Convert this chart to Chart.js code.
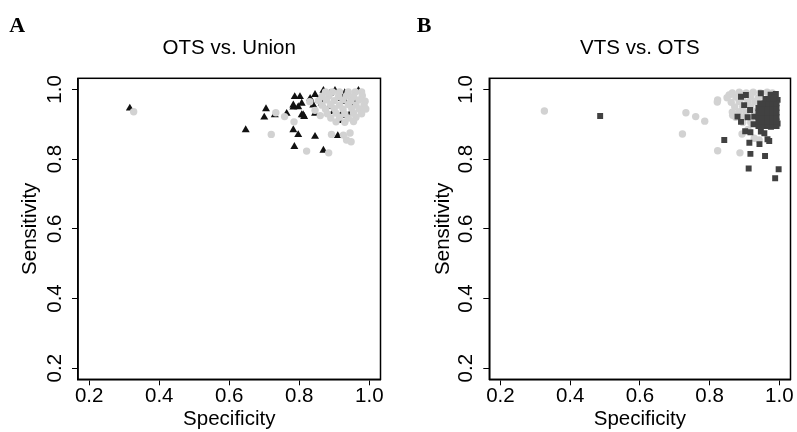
<!DOCTYPE html>
<html>
<head>
<meta charset="utf-8">
<script src="https://cdn.jsdelivr.net/npm/chart.js@4.4.1/dist/chart.umd.min.js"></script>
<style>
  html, body { margin: 0; padding: 0; background: #fff; }
  #wrap { position: relative; width: 797px; height: 432px; }
  canvas { position: absolute; top: 0; }
  #chartA { left: 0; }
  #chartB { left: 400px; }
</style>
</head>
<body>
<div id="wrap">
  <canvas id="chartA" width="400" height="432"></canvas>
  <canvas id="chartB" width="397" height="432"></canvas>
</div>
<script>
// Axis ticks shared by both panels
const tickValues = [0.2, 0.4, 0.6, 0.8, 1.0];
const axisMin = 0.168;
const axisMax = 1.032;

// Panel A: OTS vs. Union — [specificity, sensitivity]
const unionTriangles = [
  [0.316, 0.946], [0.647, 0.884], [0.705, 0.944], [0.700, 0.920], [0.730, 0.927],
  [0.764, 0.931], [0.783, 0.884], [0.797, 0.870], [0.786, 0.836], [0.845, 0.865],
  [0.869, 0.825], [0.910, 0.867], [0.783, 0.949], [0.807, 0.927], [0.814, 0.922],
  [0.845, 0.931], [0.787, 0.979], [0.802, 0.979], [0.783, 0.955], [0.807, 0.960],
  [0.797, 0.950], [0.811, 0.927], [0.831, 0.974], [0.840, 0.955], [0.869, 0.997],
  [0.888, 0.989], [0.902, 0.997], [0.864, 0.960], [0.897, 0.936], [0.921, 0.931],
  [0.945, 0.931], [0.969, 0.997], [0.931, 0.965], [0.921, 0.974], [0.888, 0.952],
  [0.845, 0.985], [0.855, 0.970], [0.930, 0.990], [0.950, 0.955], [0.960, 0.960],
  [0.915, 0.910], [0.935, 0.925]
];
const otsCirclesA = [
  [0.327, 0.936], [0.733, 0.933], [0.758, 0.922], [0.785, 0.907], [0.720, 0.871],
  [0.821, 0.823], [0.884, 0.818], [0.892, 0.871], [0.926, 0.869], [0.935, 0.855],
  [0.945, 0.875], [0.948, 0.850], [0.830, 0.965], [0.845, 0.940], [0.860, 0.925],
  [0.875, 0.993], [0.895, 0.993], [0.915, 0.993], [0.940, 0.993], [0.960, 0.993], [0.978, 0.993],
  [0.865, 0.980], [0.885, 0.982], [0.912, 0.980], [0.935, 0.982], [0.955, 0.980], [0.980, 0.982],
  [0.855, 0.968], [0.878, 0.970], [0.900, 0.968], [0.925, 0.970], [0.948, 0.968], [0.970, 0.970], [0.988, 0.966],
  [0.865, 0.955], [0.890, 0.957], [0.915, 0.955], [0.940, 0.957], [0.962, 0.955], [0.985, 0.955],
  [0.875, 0.943], [0.900, 0.945], [0.925, 0.943], [0.950, 0.945], [0.972, 0.943], [0.990, 0.944],
  [0.880, 0.930], [0.905, 0.932], [0.930, 0.930], [0.955, 0.932], [0.978, 0.930],
  [0.890, 0.918], [0.915, 0.920], [0.940, 0.918], [0.962, 0.920],
  [0.905, 0.907], [0.930, 0.906], [0.955, 0.908]
];

// Panel B: VTS vs. OTS — [specificity, sensitivity]
const otsCirclesB = [
  [0.326, 0.938], [0.732, 0.933], [0.760, 0.922], [0.786, 0.909], [0.722, 0.872],
  [0.823, 0.824], [0.887, 0.818], [0.823, 0.970], [0.822, 0.964], [0.893, 0.872],
  [0.928, 0.860], [0.942, 0.855], [0.910, 0.885], [0.866, 0.926], [0.856, 0.984],
  [0.865, 0.990], [0.885, 0.992], [0.905, 0.990], [0.925, 0.992], [0.945, 0.990], [0.965, 0.992], [0.980, 0.990],
  [0.850, 0.976], [0.875, 0.978], [0.895, 0.976], [0.918, 0.978], [0.940, 0.976],
  [0.862, 0.963], [0.885, 0.965], [0.910, 0.963], [0.930, 0.965],
  [0.872, 0.950], [0.895, 0.950], [0.918, 0.950],
  [0.865, 0.935], [0.885, 0.936], [0.905, 0.935], [0.928, 0.936],
  [0.875, 0.920], [0.898, 0.921], [0.922, 0.920],
  [0.895, 0.905], [0.918, 0.905], [0.938, 0.905]
];
const vtsSquares = [
  [0.486, 0.924], [0.842, 0.855], [0.890, 0.979], [0.904, 0.984], [0.899, 0.955],
  [0.916, 0.941], [0.880, 0.922], [0.890, 0.907], [0.909, 0.920], [0.902, 0.880],
  [0.917, 0.877], [0.914, 0.847], [0.917, 0.815], [0.912, 0.773], [0.943, 0.843],
  [0.947, 0.879], [0.957, 0.874], [0.966, 0.857], [0.971, 0.852], [0.959, 0.809],
  [0.998, 0.771], [0.988, 0.745], [0.947, 0.989], [0.928, 0.922], [0.926, 0.900],
  [0.976, 0.893], [0.995, 0.902], [0.995, 0.970], [0.975, 0.985], [0.990, 0.987], [0.985, 0.978],
  [0.940, 0.895], [0.953, 0.895], [0.966, 0.895], [0.979, 0.895], [0.992, 0.895],
  [0.940, 0.908], [0.953, 0.908], [0.966, 0.908], [0.979, 0.908], [0.992, 0.908],
  [0.940, 0.921], [0.953, 0.921], [0.966, 0.921], [0.979, 0.921], [0.992, 0.921],
  [0.940, 0.934], [0.953, 0.934], [0.966, 0.934], [0.979, 0.934], [0.992, 0.934],
  [0.940, 0.947], [0.953, 0.947], [0.966, 0.947], [0.979, 0.947], [0.992, 0.947],
  [0.945, 0.960], [0.957, 0.960], [0.968, 0.960], [0.980, 0.960], [0.992, 0.960],
  [0.960, 0.973], [0.972, 0.973], [0.984, 0.973]
];

const FONT = "'Liberation Sans', Arial, Helvetica, sans-serif";
const FS = 20.5;
const toXY = arr => arr.map(p => ({ x: p[0], y: p[1] }));

// Draws the panel letter, the title and the full box around the plot
const panelDecor = {
  id: 'panelDecor',
  afterDatasetsDraw(chart, args, opts) {
    const { ctx, chartArea } = chart;
    ctx.save();
    ctx.strokeStyle = '#000';
    ctx.lineWidth = 1.5;
    ctx.strokeRect(chartArea.left, chartArea.top, chartArea.right - chartArea.left, chartArea.bottom - chartArea.top);
    ctx.fillStyle = '#000';
    ctx.textBaseline = 'alphabetic';
    ctx.font = "bold 22px 'Liberation Serif', 'Times New Roman', serif";
    ctx.textAlign = 'left';
    ctx.fillText(opts.letter, opts.letterX, 31.5);
    ctx.font = FS + 'px ' + FONT;
    ctx.textAlign = 'center';
    ctx.fillText(opts.title, (chartArea.left + chartArea.right) / 2, 53.5);
    ctx.restore();
  }
};

function makeScales(yTitlePad) {
  const common = {
    type: 'linear',
    min: axisMin,
    max: axisMax,
    afterBuildTicks: scale => { scale.ticks = tickValues.map(v => ({ value: v })); },
    grid: { drawOnChartArea: false, drawTicks: true, tickLength: 6, color: '#000', lineWidth: 1 },
    border: { display: true, color: '#000', width: 1.5 }
  };
  return {
    x: Object.assign({}, common, {
      position: 'bottom',
      ticks: { autoSkip: false, maxRotation: 0, padding: -1.5, color: '#000', font: { family: FONT, size: FS }, callback: v => v.toFixed(1) },
      title: { display: true, text: 'Specificity', color: '#000', font: { family: FONT, size: FS }, padding: { top: 0, bottom: 0.4 } },
      afterFit: scale => { scale.height = 52.7; }
    }),
    y: Object.assign({}, common, {
      position: 'left',
      ticks: { autoSkip: false, minRotation: 90, maxRotation: 90, crossAlign: 'center', padding: 2.7, color: '#000', font: { family: FONT, size: FS }, callback: v => v.toFixed(1) },
      title: { display: true, text: 'Sensitivity', color: '#000', font: { family: FONT, size: FS }, padding: { top: yTitlePad, bottom: 0 } },
      afterFit: scale => { scale.width = 78; }
    })
  };
}

function makeChart(id, datasets, padLeft, padRight, yTitlePad, letter, letterX, title) {
  return new Chart(document.getElementById(id), {
    type: 'scatter',
    data: { datasets },
    options: {
      responsive: false,
      animation: false,
      layout: { padding: { left: padLeft, right: padRight, top: 78.3, bottom: 0 } },
      plugins: {
        legend: { display: false },
        tooltip: { enabled: false },
        panelDecor: { letter, letterX, title }
      },
      scales: makeScales(yTitlePad)
    },
    plugins: [panelDecor]
  });
}

makeChart('chartA', [
  { label: 'OTS', data: toXY(otsCirclesA), pointStyle: 'circle', pointRadius: 3.7, backgroundColor: '#d2d2d2', borderWidth: 0, order: 1 },
  { label: 'Union', data: toXY(unionTriangles), pointStyle: 'triangle', pointRadius: 4.6, backgroundColor: '#111', borderWidth: 0, order: 2 }
], 0, 19.5, 17.7, 'A', 9.3, 'OTS vs. Union');

makeChart('chartB', [
  { label: 'VTS', data: toXY(vtsSquares), pointStyle: 'rect', pointRadius: 4.2, backgroundColor: '#414141', borderWidth: 0, order: 1 },
  { label: 'OTS', data: toXY(otsCirclesB), pointStyle: 'circle', pointRadius: 3.7, backgroundColor: '#d2d2d2', borderWidth: 0, order: 2 }
], 11.3, 6.5, 19.4, 'B', 16.7, 'VTS vs. OTS');
</script>
</body>
</html>
